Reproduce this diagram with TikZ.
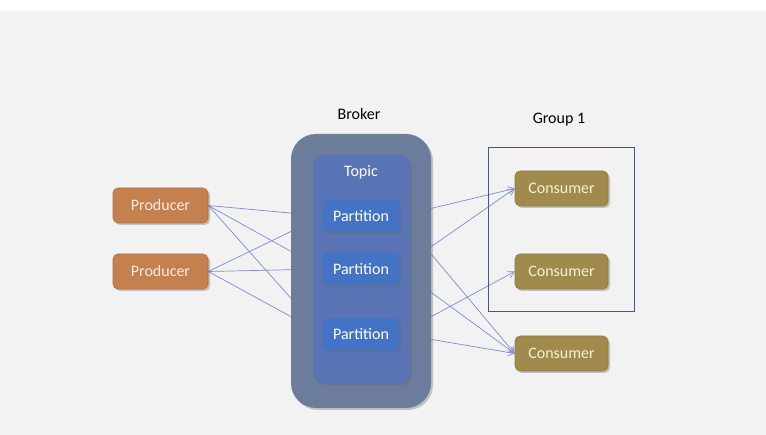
\documentclass[tikz,border=0pt]{standalone}
\usepackage{fontspec}
\setmainfont{Carlito}
\usetikzlibrary{arrows.meta,shadows}
\definecolor{bgc}{RGB}{242,242,242}
\definecolor{prodc}{RGB}{197,128,80}
\definecolor{prodd}{RGB}{178,110,64}
\definecolor{consc}{RGB}{160,138,76}
\definecolor{consd}{RGB}{145,124,66}
\definecolor{partc}{RGB}{68,114,196}
\definecolor{topicc}{RGB}{88,116,180}
\definecolor{brokc}{RGB}{108,125,155}
\definecolor{linec}{RGB}{122,142,212}
\definecolor{groupc}{RGB}{63,86,166}
\definecolor{prodtxt}{RGB}{252,236,222}
\definecolor{constxt}{RGB}{248,240,216}
\pgfdeclarelayer{back}
\pgfdeclarelayer{lines}
\pgfsetlayers{back,lines,main}
\tikzset{
  shad/.style={drop shadow={shadow xshift=2pt,shadow yshift=-2pt,opacity=0.35,fill=black!60}},
  txt/.style={font=\fontsize{16}{18}\selectfont},
  prodbox/.style={shad,txt,draw=prodd,line width=0.6pt,fill=prodc,rounded corners=5pt,minimum width=95pt,minimum height=35pt,text=prodtxt},
  consbox/.style={shad,txt,draw=consd,line width=0.6pt,fill=consc,rounded corners=5pt,minimum width=93pt,minimum height=35pt,text=constxt},
  partbox/.style={shad,txt,fill=partc,rounded corners=4pt,minimum width=76pt,minimum height=32pt,text=white},
  conn/.style={draw=linec,line width=0.7pt},
  arr/.style={conn,-{Straight Barb[length=6pt,width=7pt]}},
  lbl/.style={txt,text=black}
}
\begin{document}
\begin{tikzpicture}[x=1pt,y=-1pt]
\begin{pgfonlayer}{back}
\fill[white] (0,0) rectangle (766,435);
\fill[bgc] (0,11) rectangle (766,435);
\end{pgfonlayer}
\useasboundingbox (0,0) rectangle (766,435);
% broker and topic
\node[shad,fill=brokc,rounded corners=25pt,minimum width=140pt,minimum height=274pt,inner sep=0pt] (broker) at (361,271) {};
\node[shad,fill=topicc,rounded corners=10pt,minimum width=97pt,minimum height=228pt,inner sep=0pt] (topic) at (361.5,269) {};
\node[txt,text=white] (topiclbl) at (361,172) {Topic};
\node[lbl] (brokerlbl) at (359,114) {Broker};
\node[partbox] (p1) at (361,216) {Partition};
\node[partbox] (p2) at (361,269) {Partition};
\node[partbox] (p3) at (361,334) {Partition};
% producers
\node[prodbox] (pr1) at (160.5,205.5) {Producer};
\node[prodbox] (pr2) at (160.5,271.5) {Producer};
% group and consumers
\node[draw=groupc,line width=0.8pt,minimum width=146pt,minimum height=164pt,inner sep=0pt] (group) at (561,229) {};
\node[lbl] (grouplbl) at (559,120) {Group 1};
\node[consbox] (c1) at (561.5,188.5) {Consumer};
\node[consbox] (c2) at (561.5,271.5) {Consumer};
\node[consbox] (c3) at (561.5,353.5) {Consumer};
% connectors
\begin{pgfonlayer}{lines}
\draw[conn] (pr1.east) -- (p1.west);
\draw[conn] (pr1.east) -- (p2.west);
\draw[conn] (pr1.east) -- (p3.west);
\draw[conn] (pr2.east) -- (p1.west);
\draw[conn] (pr2.east) -- (p2.west);
\draw[conn] (pr2.east) -- (p3.west);
\draw[arr] (p1.east) -- (c1.west);
\draw[arr] (p2.east) -- (c1.west);
\draw[arr] (p1.east) -- (c3.west);
\draw[arr] (p2.east) -- (c3.west);
\draw[arr] (p3.east) -- (c2.west);
\draw[arr] (p3.east) -- (c3.west);
\end{pgfonlayer}
\end{tikzpicture}
\end{document}
